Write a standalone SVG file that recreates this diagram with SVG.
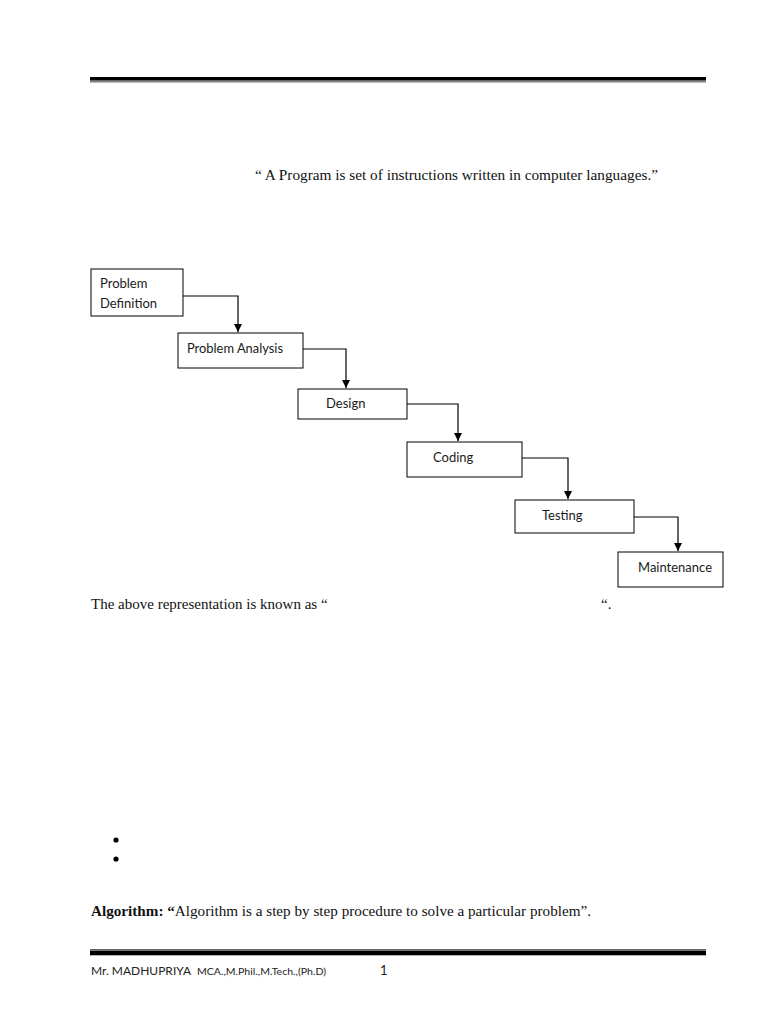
<svg xmlns="http://www.w3.org/2000/svg" width="768" height="1024" viewBox="0 0 768 1024">
<style>
.box{fill:#fff;stroke:#000;stroke-width:1}
.lbl{font-family:Lato,"Open Sans",sans-serif;font-size:13px;fill:#1a1a1a}
.body{font-family:"Liberation Serif",serif;font-size:15px;fill:#111}
.conn{fill:none;stroke:#000;stroke-width:1.2}
.foot{font-family:Lato,"Open Sans",sans-serif;fill:#222}
</style>
<defs>
<marker id="ah" viewBox="0 0 10 10" refX="10" refY="5" markerWidth="8" markerHeight="8" markerUnits="userSpaceOnUse" orient="auto">
<path d="M0,0 L10,5 L0,10 z" fill="#000"/>
</marker>
</defs>
<rect width="768" height="1024" fill="#fff"/>
<rect x="90" y="77" width="616" height="3.6" fill="#000"/>
<rect x="90" y="81.3" width="616" height="1.1" fill="#555"/>
<text class="body" x="255" y="180" textLength="403" lengthAdjust="spacingAndGlyphs">“ A Program is set of instructions written in computer languages.”</text>
<g id="connectors">
<path class="conn" d="M183,296 H238 V332" marker-end="url(#ah)"/>
<path class="conn" d="M303,349 H346 V388" marker-end="url(#ah)"/>
<path class="conn" d="M407,404 H458 V441" marker-end="url(#ah)"/>
<path class="conn" d="M522,458 H568 V499" marker-end="url(#ah)"/>
<path class="conn" d="M634,517 H678 V551" marker-end="url(#ah)"/>
</g>
<g id="n1"><rect class="box" x="91" y="269" width="92" height="47"/><text class="lbl" x="100" y="288">Problem</text><text class="lbl" x="100" y="308">Definition</text></g>
<g id="n2"><rect class="box" x="178" y="333" width="125" height="35"/><text class="lbl" x="187" y="353" textLength="96" lengthAdjust="spacingAndGlyphs">Problem Analysis</text></g>
<g id="n3"><rect class="box" x="298" y="389" width="109" height="30"/><text class="lbl" x="326" y="408">Design</text></g>
<g id="n4"><rect class="box" x="407" y="442" width="115" height="35"/><text class="lbl" x="433" y="462">Coding</text></g>
<g id="n5"><rect class="box" x="515" y="500" width="119" height="33"/><text class="lbl" x="542" y="520">Testing</text></g>
<g id="n6"><rect class="box" x="618" y="552" width="105" height="35"/><text class="lbl" x="638" y="572">Maintenance</text></g>
<text class="body" x="91" y="609">The above representation is known as “</text>
<text class="body" x="601" y="609">“.</text>
<circle cx="116" cy="840" r="2.6" fill="#000"/>
<circle cx="116" cy="859" r="2.6" fill="#000"/>
<text class="body" x="91" y="916" textLength="500" lengthAdjust="spacingAndGlyphs"><tspan font-weight="bold">Algorithm:  “</tspan>Algorithm is a step by step procedure to solve a particular problem”.</text>
<rect x="90" y="949" width="616" height="1.1" fill="#666"/>
<rect x="90" y="950.5" width="616" height="4.8" fill="#000"/>
<text class="foot" x="91" y="975" font-size="12" textLength="100" lengthAdjust="spacingAndGlyphs">Mr. MADHUPRIYA</text>
<text class="foot" x="197" y="975" font-size="10.2" textLength="129" lengthAdjust="spacingAndGlyphs">MCA.,M.Phil.,M.Tech.,(Ph.D)</text>
<text class="foot" x="380" y="975" font-size="13">1</text>
</svg>
